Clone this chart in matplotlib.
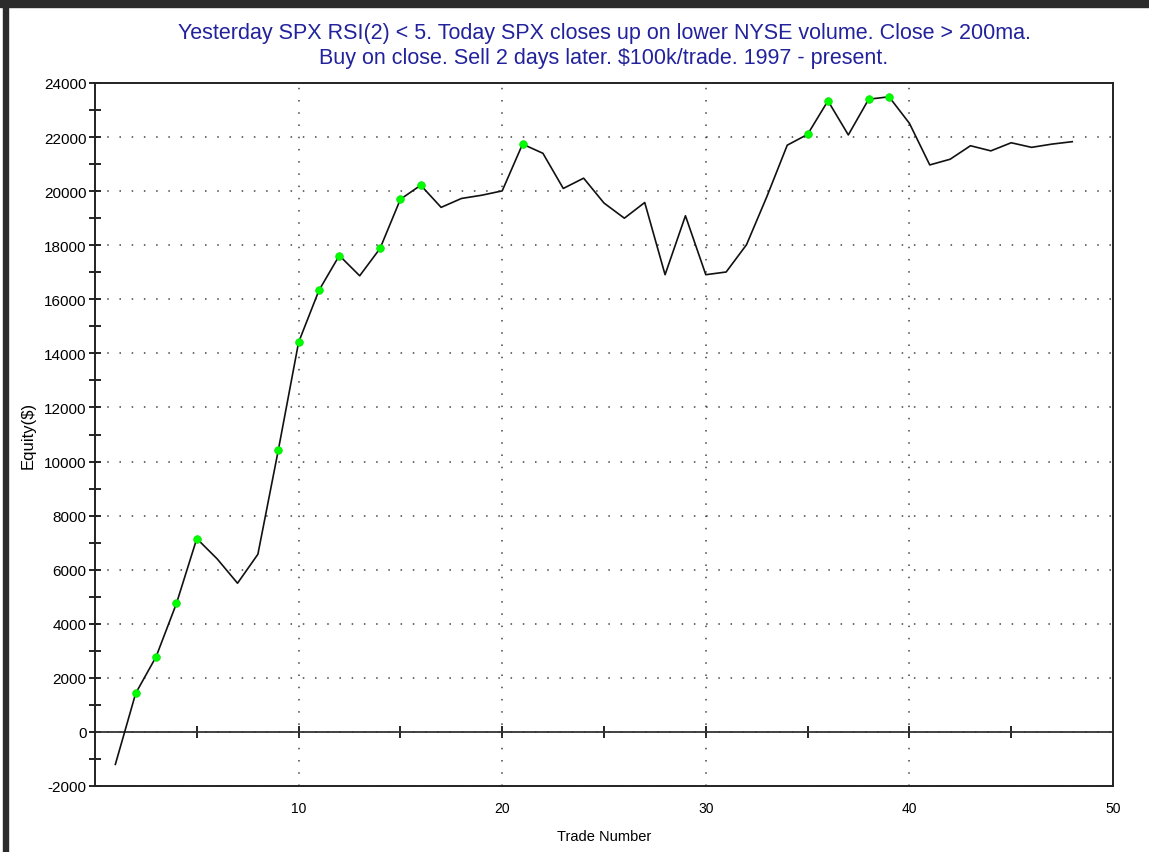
import matplotlib
matplotlib.use("Agg")
import matplotlib.pyplot as plt
from matplotlib.patches import Rectangle

trades = list(range(1, 49))
equity = [-1200, 1430, 2780, 4750, 7150, 6400, 5500, 6570, 10410, 14410,
          16330, 17620, 16870, 17880, 19700, 20220, 19400, 19730, 19850, 20010,
          21740, 21400, 20100, 20480, 19560, 19000, 19580, 16910, 19090, 16910,
          17010, 18020, 19800, 21700, 22100, 23340, 22080, 23400, 23490, 22510,
          20970, 21180, 21680, 21490, 21790, 21620, 21740, 21830]
new_high_trades = [2, 3, 4, 5, 9, 10, 11, 12, 14, 15, 16, 21, 35, 36, 38, 39]

title_text = ("Yesterday SPX RSI(2) < 5. Today SPX closes up on lower NYSE volume. Close > 200ma.\n"
              "Buy on close. Sell 2 days later. $100k/trade. 1997 - present.")
x_ticks = [10, 20, 30, 40, 50]
y_ticks = list(range(-2000, 24001, 2000))

plt.rcParams['font.family'] = ['Liberation Sans', 'DejaVu Sans']
plt.rcParams['axes.unicode_minus'] = False

fig = plt.figure(figsize=(11.49, 8.53), dpi=100)
W, H = 1149, 853
ax = fig.add_axes([95 / W, 1 - 787 / H, (1113 - 95) / W, (787 - 84) / H])

# window frame (dark border on left and top)
fig.patches.append(Rectangle((3 / W, 0), 5 / W, 1, transform=fig.transFigure,
                             color='#2b2b2b', zorder=0))
fig.patches.append(Rectangle((0, 1 - 8 / H), 1, 8 / H, transform=fig.transFigure,
                             color='#2b2b2b', zorder=0))

ax.plot(trades, equity, color='#111111', lw=1.2, zorder=3)
hy = [equity[trades.index(t)] for t in new_high_trades]
ax.plot(new_high_trades, hy, 'o', color='#00ff00', ms=5.5, mec='#00e000', mew=0.5, zorder=4)

ax.set_xlim(0, 50)
ax.set_ylim(-2000, 24000)
ax.set_xticks(x_ticks)
ax.set_yticks(y_ticks)
ax.set_yticks(list(range(-1000, 24000, 2000)), minor=True)
ax.tick_params(axis='x', length=0, pad=11, labelsize=10)
ax.tick_params(axis='y', which='both', direction='inout', length=8, width=1.2,
               labelsize=11, pad=2)

ax.grid(True, which='major', color='#444444', linestyle=(0, (1, 7)), lw=1.1)
ax.axhline(0, color='#333333', lw=1.3, zorder=2)

sec = ax.secondary_xaxis(2000 / 26000)
sec.set_xticks([5, 10, 15, 20, 25, 30, 35, 40, 45])
sec.tick_params(direction='inout', length=8, width=1.2, labelbottom=False, labeltop=False)
sec.spines['bottom'].set_visible(False)
sec.spines['top'].set_visible(False)

for s in ax.spines.values():
    s.set_color('#222222')
    s.set_linewidth(1.4)

ax.set_ylabel('Equity($)', fontsize=12, labelpad=6)
ax.set_xlabel('Trade Number', fontsize=10.5, labelpad=10)

fig.text(604 / W, 1 - 46 / H, title_text, ha='center', va='center', color='#22229c',
         fontsize=15.5, linespacing=1.25)

fig.savefig('out.png', dpi=100)
